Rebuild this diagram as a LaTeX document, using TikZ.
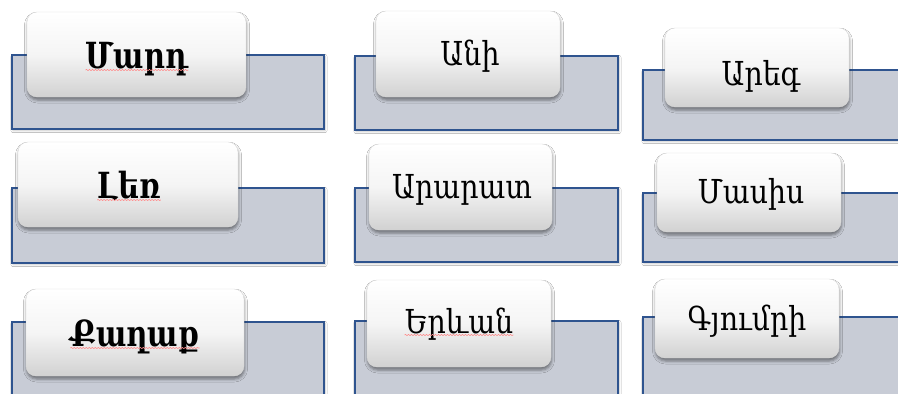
\documentclass[tikz,border=0pt]{standalone}
\usepackage{graphicx}
\usepackage{fontspec}
\setmainfont{DejaVu Serif}
\usetikzlibrary{shadows.blur,decorations.pathmorphing}
\definecolor{panelfill}{RGB}{200,204,214}
\definecolor{panelline}{RGB}{47,84,143}
\newcommand{\nrm}[1]{\scalebox{0.86}[1]{#1}}
\newcommand{\bld}[1]{\scalebox{0.8}[1]{#1}}
\tikzset{
  panel/.style={draw=panelline, line width=1.3pt, fill=panelfill, inner sep=0pt, outer sep=0pt,
    blur shadow={shadow xshift=1pt, shadow yshift=-1.5pt, shadow blur steps=4, shadow opacity=25}},
  tabbox/.style={rounded corners=10pt, draw=gray!30, line width=0.4pt, inner sep=0pt, outer sep=0pt,
    top color=white, bottom color=black!18, middle color=white!96!black,
    blur shadow={shadow xshift=0.5pt, shadow yshift=-3pt, shadow blur radius=3pt, shadow opacity=45}},
  lbl/.style={inner sep=0pt, anchor=base, font=\fontsize{33}{40}\selectfont},
  biglbl/.style={inner sep=0pt, anchor=base, font=\bfseries\fontsize{36}{44}\selectfont},
  squig/.style={draw=red!45, line width=0.6pt, decorate, decoration={snake, amplitude=0.6pt, segment length=3pt}}
}
\begin{document}
\begin{tikzpicture}[x=1pt,y=-1pt]
\useasboundingbox (0,0) rectangle (898,394);
\clip (0,0) rectangle (898,394);
\fill[white] (0,0) rectangle (898,394);
% panels
\node[panel, minimum width=312pt, minimum height=74pt] (p11) at (168,92) {};
\node[panel, minimum width=312pt, minimum height=75pt] (p12) at (168,225.5) {};
\node[panel, minimum width=312pt, minimum height=88pt] (p13) at (168,366) {};
\node[panel, minimum width=263pt, minimum height=74pt] (p21) at (486.5,93) {};
\node[panel, minimum width=263pt, minimum height=74pt] (p22) at (486.5,225) {};
\node[panel, minimum width=263pt, minimum height=89pt] (p23) at (486.5,365.5) {};
\node[panel, minimum width=267pt, minimum height=70pt] (p31) at (776.5,105) {};
\node[panel, minimum width=267pt, minimum height=69pt] (p32) at (776.5,227.5) {};
\node[panel, minimum width=267pt, minimum height=93pt] (p33) at (776.5,363.5) {};
% tabs
\node[tabbox, minimum width=219pt, minimum height=85pt] (t11) at (136.5,54.5) {};
\node[tabbox, minimum width=220pt, minimum height=85pt] (t12) at (128,184.5) {};
\node[tabbox, minimum width=218pt, minimum height=87pt] (t13) at (135,332.5) {};
\node[tabbox, minimum width=184pt, minimum height=86pt] (t21) at (468,54) {};
\node[tabbox, minimum width=183pt, minimum height=86pt] (t22) at (460.5,187) {};
\node[tabbox, minimum width=184pt, minimum height=87pt] (t23) at (459,323.5) {};
\node[tabbox, minimum width=184pt, minimum height=79pt] (t31) at (757,67.5) {};
\node[tabbox, minimum width=184pt, minimum height=79pt] (t32) at (749,192.5) {};
\node[tabbox, minimum width=184pt, minimum height=79pt] (t33) at (747,318.5) {};
% labels
\node[biglbl] (l11) at (137,68) {\bld{Մարդ}};
\node[biglbl] (l12) at (129,198) {\bld{Լեռ}};
\node[biglbl] (l13) at (135,346) {\bld{Քաղաք}};
\node[lbl] (l21) at (470,65) {\nrm{Անի}};
\node[lbl] (l22) at (462,198) {\nrm{Արարատ}};
\node[lbl] (l23) at (459,333) {\nrm{Երևան}};
\node[lbl] (l31) at (761,85) {\nrm{Արեգ}};
\node[lbl] (l32) at (751,203) {\nrm{Մասիս}};
\node[lbl] (l33) at (747,330) {\nrm{Գյումրի}};
% spell-check underlines
\draw[squig] ([yshift=-2pt]l11.base west) -- ([yshift=-2pt]l11.base east);
\draw[squig] ([yshift=-2pt]l12.base west) -- ([yshift=-2pt]l12.base east);
\draw[squig] ([yshift=-2pt]l13.base west) -- ([yshift=-2pt]l13.base east);
\draw[squig] ([yshift=-2pt]l23.base west) -- ([yshift=-2pt]l23.base east);
\end{tikzpicture}
\end{document}
